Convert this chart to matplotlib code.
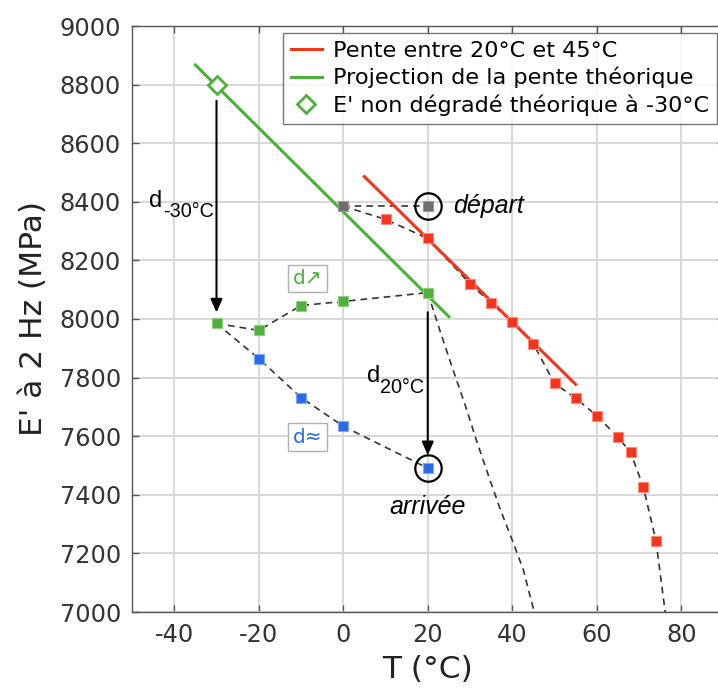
import matplotlib
matplotlib.use("Agg")
import matplotlib.pyplot as plt

plt.rcParams['axes.unicode_minus'] = False

# ---- data ----
T_depart = [0, 20]
E_depart = [8385, 8385]

T_red = [10, 20, 30, 35, 40, 45, 50, 55, 60, 65, 68, 71, 74]
E_red = [8340, 8275, 8120, 8055, 7990, 7915, 7780, 7730, 7670, 7597, 7545, 7428, 7244]
T_red_tail = [74, 76.2]
E_red_tail = [7244, 7000]

T_green = [-30, -20, -10, 0, 20]
E_green = [7985, 7961, 8046, 8060, 8090]
T_green_tail = [20, 23, 26, 29, 31.7, 34.5, 37.2, 40, 42.6, 45.2]
E_green_tail = [8090, 7955, 7826, 7700, 7578, 7460, 7349, 7245, 7145, 7000]

T_blue = [-30, -20, -10, 0, 20]
E_blue = [7985, 7865, 7732, 7634, 7491]

T_red_fit = [5, 55]
E_red_fit = [8486, 7777]
T_green_fit = [-35, 25]
E_green_fit = [8867, 8008]

T_theo = [-30]
E_theo = [8800]

RED = '#f5341c'
GREEN = '#4cb03a'
BLUE = '#2a6ae8'
GRAY = '#6e6e6e'
DASH = '#333333'

W, H = 718, 695
fig = plt.figure(figsize=(W / 100, H / 100), dpi=100)
ax = fig.add_axes([132 / W, 1 - 612 / H, 591.5 / W, (612 - 26) / H])
ax.set_xlim(-50, 90)
ax.set_ylim(7000, 9000)

ax.grid(True, color='#d6d6d6', linewidth=1.3)
ax.set_axisbelow(True)
for s in ax.spines.values():
    s.set_color('#555555')
    s.set_linewidth(1.0)
ax.tick_params(direction='in', length=5, width=1, color='#555555', top=True, right=True,
               labelsize=17.3, labelcolor='#333333', pad=8)
ax.set_xticks([-40, -20, 0, 20, 40, 60, 80])
ax.set_yticks(range(7000, 9001, 200))

dash_kw = dict(color=DASH, linestyle=(0, (4, 3)), linewidth=1.2, zorder=2)
# dashed connections
ax.plot(T_depart, E_depart, **dash_kw)
ax.plot([T_depart[0]] + T_red, [E_depart[0]] + E_red, **dash_kw)
ax.plot(T_red_tail, E_red_tail, **dash_kw)
ax.plot(T_green, E_green, **dash_kw)
ax.plot(T_green_tail, E_green_tail, **dash_kw)
ax.plot(T_blue, E_blue, **dash_kw)

# fit lines
ax.plot(T_red_fit, E_red_fit, color=RED, linewidth=2.2, zorder=3, label='Pente entre 20°C et 45°C')
ax.plot(T_green_fit, E_green_fit, color=GREEN, linewidth=2.2, zorder=3, label='Projection de la pente théorique')

mk = dict(marker='s', markersize=7.5, linestyle='none', zorder=4, markeredgewidth=0.8)
ax.plot(T_depart, E_depart, color=GRAY, markeredgecolor='#9a9a9a', **mk)
ax.plot(T_red, E_red, color=RED, markeredgecolor='#ff8a78', **mk)
ax.plot(T_blue, E_blue, color=BLUE, markeredgecolor='#7fa6f0', **mk)
ax.plot(T_green, E_green, color=GREEN, markeredgecolor='#8fd07f', **mk)
ax.plot(T_theo, E_theo, marker='D', markersize=9, markerfacecolor='white', markeredgecolor=GREEN,
        markeredgewidth=2, linestyle='none', zorder=5, label="E' non dégradé théorique à -30°C")

# circles
ax.plot([T_depart[1]], [E_depart[1]], marker='o', markersize=19, markerfacecolor='none',
        markeredgecolor='black', markeredgewidth=1.6, linestyle='none', zorder=5)
ax.plot([T_blue[-1]], [E_blue[-1]], marker='o', markersize=19, markerfacecolor='none',
        markeredgecolor='black', markeredgewidth=1.6, linestyle='none', zorder=5)

# arrows
arr = dict(arrowstyle='-|>,head_width=0.35,head_length=0.8', color='black', linewidth=1.5,
           shrinkA=0, shrinkB=0)
ax.annotate('', xy=(-30, 8022), xytext=(-30, 8745), arrowprops=arr, zorder=6)
ax.annotate('', xy=(20, 7535), xytext=(20, 8023), arrowprops=arr, zorder=6)

FA = ['Liberation Sans', 'DejaVu Sans']
ax.text(-45.9, 8383, 'd', fontsize=17, family=FA, va='baseline', ha='left')
ax.text(-42.6, 8349, '-30°C', fontsize=14.3, family=FA, va='baseline', ha='left')
ax.text(5.7, 7784, 'd', fontsize=17, family=FA, va='baseline', ha='left')
ax.text(8.8, 7746, '20°C', fontsize=14.3, family=FA, va='baseline', ha='left')

ax.text(26.1, 8385, 'départ', fontsize=18, family=FA, style='italic', va='center', ha='left')
ax.text(20, 7357, 'arrivée', fontsize=18, family=FA, style='italic', va='center', ha='center')

box = dict(boxstyle='square,pad=0.22', facecolor='white', edgecolor='#b0b0b0', linewidth=1)
ax.text(-8.5, 8138, 'd↗', fontsize=14.5, family=['DejaVu Sans'], color=GREEN,
        va='center', ha='center', bbox=box, zorder=6)
ax.text(-8.5, 7596, 'd≈', fontsize=14.5, family=['DejaVu Sans'], color=BLUE,
        va='center', ha='center', bbox=box, zorder=6)

ax.set_xlabel('T (°C)', fontsize=22.5, color='#222222', labelpad=6)
ax.set_ylabel("E' à 2 Hz (MPa)", fontsize=22.5, color='#222222', labelpad=8)

leg = ax.legend(loc='upper left', bbox_to_anchor=(283 / W, 1 - 33 / H), bbox_transform=fig.transFigure,
                fontsize=16.1, frameon=True, fancybox=False, edgecolor='#555555',
                borderpad=0.35, handlelength=1.4, handletextpad=0.5, labelspacing=0.27,
                borderaxespad=0)
leg.get_frame().set_linewidth(1.0)

fig.savefig('out.png', dpi=100)
